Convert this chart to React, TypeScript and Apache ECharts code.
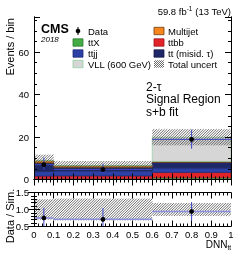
import React, { useEffect, useRef } from 'react';
import * as echarts from 'echarts';

// ---- data ----
const binLo = [0, 0.1, 0.6];
const binHi = [0.1, 0.6, 1.0];
const ttX = [0.3, 0.3, 0.8];
const ttbb = [1.3, 1.4, 2.5];
const ttjj = [2.3, 2.4, 2.2];
const ttMisid = [3.9, 1.7, 2.6];
const multijet = [1.0, 0.7, 0.4];
const vll = [0.2, 0.1, 11.4];
const uncLow = [6.3, 4.5, 16.1];
const uncHigh = [11.7, 8.7, 23.7];
const dataX = [0.05, 0.35, 0.8];
const dataY = [7.0, 4.7, 18.9];
const dataLow = [4.4, 2.6, 14.5];
const dataHigh = [10.3, 7.5, 23.5];
const ratioY = [0.75, 0.71, 0.94];
const ratioLow = [0.45, 0.41, 0.67];
const ratioHigh = [1.05, 1.04, 1.22];
const ratioUncLow = [0.7, 0.68, 0.81];
const ratioUncHigh = [1.3, 1.32, 1.19];

const FONT = 'Liberation Sans, Arial, Helvetica, sans-serif';

const stackDefs = [
  { name: 'ttX', values: ttX, fill: '#45ab45', stroke: '#2d7a2d' },
  { name: 'ttbb', values: ttbb, fill: '#e3232a', stroke: '#9c1519' },
  { name: 'ttjj', values: ttjj, fill: '#2c40a6', stroke: '#1d2b73' },
  { name: 'tt (misid. τ)', values: ttMisid, fill: '#1e2868', stroke: '#141a45' },
  { name: 'Multijet', values: multijet, fill: '#f7861c', stroke: '#6b3a10' },
  { name: 'VLL', values: vll, fill: '#d6d6d6', stroke: '#8fcf9e' },
];

function rectRender(fill: string, stroke: string) {
  return (params: any, api: any) => {
    const p0 = api.coord([api.value(0), api.value(3)]);
    const p1 = api.coord([api.value(1), api.value(2)]);
    return {
      type: 'rect',
      shape: { x: p0[0], y: p0[1], width: p1[0] - p0[0], height: p1[1] - p0[1] },
      style: { fill, stroke, lineWidth: 0.7 },
    };
  };
}

function hatchLines(X0: number, Y0: number, X1: number, Y1: number, step: number, color: string) {
  const children: any[] = [];
  const start = Math.ceil((X0 + Y0) / step) * step;
  for (let c = start; c < X1 + Y1; c += step) {
    const xs = Math.max(X0, c - Y1);
    const xe = Math.min(X1, c - Y0);
    if (xe > xs) {
      children.push({
        type: 'line',
        shape: { x1: xs, y1: c - xs, x2: xe, y2: c - xe },
        style: { stroke: color, lineWidth: 0.75 },
      });
    }
  }
  return children;
}

function hatchRender(params: any, api: any) {
  const p0 = api.coord([api.value(0), api.value(3)]);
  const p1 = api.coord([api.value(1), api.value(2)]);
  return { type: 'group', children: hatchLines(p0[0], p0[1], p1[0], p1[1], 2.6, '#404040') };
}

function dataRender(hColor: string, hWidth: number) {
  return (params: any, api: any) => {
    const x = api.value(0), y = api.value(1);
    const pc = api.coord([x, y]);
    const pl = api.coord([x, api.value(2)]);
    const ph = api.coord([x, api.value(3)]);
    const pxl = api.coord([api.value(4), y]);
    const pxh = api.coord([api.value(5), y]);
    return {
      type: 'group',
      children: [
        { type: 'line', shape: { x1: pxl[0], y1: pc[1], x2: pxh[0], y2: pc[1] }, style: { stroke: hColor, lineWidth: hWidth } },
        { type: 'line', shape: { x1: pc[0], y1: ph[1], x2: pc[0], y2: pl[1] }, style: { stroke: '#3a44c6', lineWidth: 1 } },
        { type: 'circle', shape: { cx: pc[0], cy: pc[1], r: 2.4 }, style: { fill: '#000' } },
      ],
    };
  };
}

export default function App() {
  const ref = useRef<HTMLDivElement>(null);
  useEffect(() => {
    if (!ref.current) return;
    const chart = echarts.init(ref.current, undefined, { renderer: 'svg' });

    const series: any[] = [];
    const cum = [0, 0, 0];
    stackDefs.forEach((s) => {
      const rows = s.values.map((v, i) => {
        const r = [binLo[i], binHi[i], cum[i], cum[i] + v];
        cum[i] += v;
        return r;
      });
      series.push({
        type: 'custom', name: s.name, xAxisIndex: 0, yAxisIndex: 0, clip: true,
        renderItem: rectRender(s.fill, s.stroke), data: rows,
      });
    });
    series.push({
      type: 'custom', name: 'unc', xAxisIndex: 0, yAxisIndex: 0, clip: true,
      renderItem: hatchRender,
      data: binLo.map((x, i) => [x, binHi[i], uncLow[i], uncHigh[i]]),
    });
    series.push({
      type: 'custom', name: 'Data', xAxisIndex: 0, yAxisIndex: 0, clip: true,
      renderItem: dataRender('#3a44c6', 1),
      data: dataX.map((x, i) => [x, dataY[i], dataLow[i], dataHigh[i], binLo[i], binHi[i]]),
    });
    series.push({
      type: 'custom', name: 'ratioUnc', xAxisIndex: 2, yAxisIndex: 4, clip: true,
      renderItem: hatchRender,
      data: binLo.map((x, i) => [x, binHi[i], ratioUncLow[i], ratioUncHigh[i]]),
    });
    series.push({
      type: 'custom', name: 'ratio', xAxisIndex: 2, yAxisIndex: 4, clip: true,
      renderItem: dataRender('#8a8fe0', 1.5),
      data: dataX.map((x, i) => [x, ratioY[i], ratioLow[i], ratioHigh[i], binLo[i], binHi[i]]),
    });

    const axLine = { show: true, lineStyle: { color: '#000', width: 1 } };
    const tickStyle = { color: '#000', width: 1 };
    const xBase = (grid: number, pos: string, labels: boolean) => ({
      type: 'value', gridIndex: grid, position: pos, min: 0, max: 1, interval: 0.1, z: 10,
      axisLine: axLine,
      axisTick: { show: true, inside: true, length: 6, lineStyle: tickStyle },
      minorTick: { show: true, splitNumber: 5, length: 3, lineStyle: tickStyle },
      splitLine: { show: false },
      axisLabel: labels
        ? { show: true, margin: 3, fontSize: 9.5, color: '#000', fontFamily: FONT,
            formatter: (v: number) => String(Number(v.toFixed(1))) }
        : { show: false },
    });
    const yAx = (grid: number, pos: string, min: number, max: number, interval: number, len: number, labels: boolean, fmt?: any, minor?: number) => ({
      type: 'value', gridIndex: grid, position: pos, min, max, interval, z: 10,
      axisLine: axLine,
      axisTick: { show: true, inside: true, length: len, lineStyle: tickStyle },
      minorTick: minor ? { show: true, splitNumber: minor, length: 3, lineStyle: tickStyle } : { show: false },
      splitLine: { show: false },
      axisLabel: labels
        ? { show: true, margin: 5, fontSize: 9.5, color: '#000', fontFamily: FONT, formatter: fmt, showMaxLabel: true }
        : { show: false },
    });

    const topFmt = (v: number) => (Math.abs(v % 20) < 1e-6 ? String(v) : '');

    const legendText = (x: number, y: number, text: string) => ({
      type: 'text', x, y,
      style: { text, fontSize: 9.5, fontFamily: FONT, fill: '#000', verticalAlign: 'middle', align: 'left' },
    });
    const swatch = (x: number, y: number, fill: string, stroke: string) => ({
      type: 'rect', shape: { x, y: y - 3.7, width: 10, height: 7.4 },
      style: { fill, stroke, lineWidth: 0.8 },
    });

    const rows = [31, 42.5, 53.5, 64];
    const hatchSw = hatchLines(154, rows[3] - 3.7, 164, rows[3] + 3.7, 2, '#3a3a3a');

    chart.setOption({
      animation: false,
      grid: [
        { left: 34, right: 10, top: 17, height: 162.5 },
        { left: 34, right: 10, top: 192.5, height: 34 },
      ],
      xAxis: [
        xBase(0, 'bottom', false),
        xBase(0, 'top', false),
        xBase(1, 'bottom', true),
        xBase(1, 'top', false),
      ],
      yAxis: [
        yAx(0, 'left', 0, 76.5, 20, 6, true, topFmt),
        yAx(0, 'left', 0, 76.5, 5, 3, false),
        yAx(0, 'right', 0, 76.5, 20, 6, false),
        yAx(0, 'right', 0, 76.5, 5, 3, false),
        yAx(1, 'left', 0.5, 1.5, 0.5, 6, true, (v: number) => v.toFixed(1), 5),
        yAx(1, 'right', 0.5, 1.5, 0.5, 6, false, undefined, 5),
      ],
      series,
      graphic: [
        {
          type: 'text', x: 231, y: 11.5,
          style: {
            text: '59.8 fb{s|-1} (13 TeV)', fontSize: 9.5, fontFamily: FONT, fill: '#000',
            align: 'right', verticalAlign: 'middle',
            rich: { s: { fontSize: 6.5, fontFamily: FONT, verticalAlign: 'top', lineHeight: 14 } },
          },
        },
        { type: 'text', x: 41, y: 28.5, style: { text: 'CMS', fontSize: 12.5, fontWeight: 'bold', fontFamily: FONT, fill: '#000', verticalAlign: 'middle' } },
        { type: 'text', x: 41, y: 39.5, style: { text: '2018', fontSize: 8, fontStyle: 'italic', fontFamily: FONT, fill: '#000', verticalAlign: 'middle' } },
        // legend left column
        { type: 'line', shape: { x1: 78, y1: rows[0] - 4, x2: 78, y2: rows[0] + 4 }, style: { stroke: '#000', lineWidth: 1 } },
        { type: 'circle', shape: { cx: 78, cy: rows[0], r: 2.3 }, style: { fill: '#000' } },
        legendText(88, rows[0], 'Data'),
        swatch(73, rows[1], '#45ab45', '#2d7a2d'),
        legendText(88, rows[1], 'ttX'),
        swatch(73, rows[2], '#2c40a6', '#1d2b73'),
        legendText(88, rows[2], 'ttjj'),
        swatch(73, rows[3], '#d6d6d6', '#8fcf9e'),
        legendText(88, rows[3], 'VLL (600 GeV)'),
        // legend right column
        swatch(154, rows[0], '#f7861c', '#6b3a10'),
        legendText(168, rows[0], 'Multijet'),
        swatch(154, rows[1], '#e3232a', '#9c1519'),
        legendText(168, rows[1], 'ttbb'),
        swatch(154, rows[2], '#1e2868', '#141a45'),
        legendText(168, rows[2], 'tt (misid. τ)'),
        { type: 'group', children: hatchSw },
        legendText(168, rows[3], 'Total uncert'),
        // region labels
        { type: 'text', x: 146, y: 86.5, style: { text: '2-τ', fontSize: 12, fontFamily: FONT, fill: '#000', verticalAlign: 'middle' } },
        { type: 'text', x: 146, y: 99, style: { text: 'Signal Region', fontSize: 12, fontFamily: FONT, fill: '#000', verticalAlign: 'middle' } },
        { type: 'text', x: 146, y: 112, style: { text: 's+b fit', fontSize: 12, fontFamily: FONT, fill: '#000', verticalAlign: 'middle' } },
        // axis titles
        { type: 'text', x: 10, y: 18, rotation: Math.PI / 2, style: { text: 'Events / bin', fontSize: 11, fontFamily: FONT, fill: '#000', align: 'right', verticalAlign: 'middle' } },
        { type: 'text', x: 10, y: 216, rotation: Math.PI / 2, style: { text: 'Data / Sim.', fontSize: 11, fontFamily: FONT, fill: '#000', align: 'center', verticalAlign: 'middle' } },
        {
          type: 'text', x: 231, y: 244,
          style: {
            text: 'DNN{s|tt}', fontSize: 10, fontFamily: FONT, fill: '#000', align: 'right', verticalAlign: 'middle',
            rich: { s: { fontSize: 6.5, fontFamily: FONT, verticalAlign: 'bottom', lineHeight: 14 } },
          },
        },
      ],
    });
    return () => chart.dispose();
  }, []);
  return <div ref={ref} style={{ position: 'fixed', left: 0, top: 0, width: 241, height: 257 }} />;
}
